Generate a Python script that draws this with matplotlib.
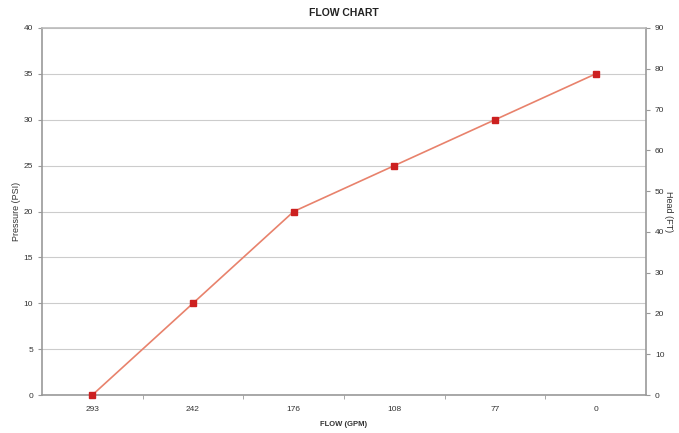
import matplotlib.pyplot as plt

plt.rcParams['font.family'] = ['Liberation Sans', 'DejaVu Sans']

flow = ["293", "242", "176", "108", "77", "0"]
pressure = [0, 10, 20, 25, 30, 35]
psi_ticks = list(range(0, 41, 5))
head_ticks = list(range(0, 91, 10))

fig = plt.figure(figsize=(6.79, 4.33), dpi=100)
ax = fig.add_axes([42 / 679, 1 - 395 / 433, 604 / 679, 367 / 433])

x = list(range(len(flow)))
ax.plot(x, pressure, color='#e8826c', lw=1.2, zorder=3)
ax.plot(x, pressure, ls='none', marker='s', ms=3.8, color='#cc2020', zorder=4, clip_on=False)

ax.set_xlim(-0.5, len(flow) - 0.5)
ax.set_ylim(0, 40)
ax.set_yticks(psi_ticks)
ax.set_xticks(x)
ax.set_xticklabels(flow)
ax.set_xticks([i + 0.5 for i in x[:-1]], minor=True)
ax.tick_params(axis='x', which='major', length=0, labelsize=6, pad=8, colors='#333333')
ax.tick_params(axis='x', which='minor', length=3, color='#999999')
ax.tick_params(axis='y', length=3, labelsize=6, color='#999999', labelcolor='#333333')
ax.grid(axis='y', color='#cccccc', lw=0.8)
ax.set_axisbelow(True)

for side in ['left', 'right', 'bottom', 'top']:
    ax.spines[side].set_color('#999999')
    ax.spines[side].set_linewidth(1.2)
ax.spines['top'].set_color('#bbbbbb')

ax.set_xlabel("FLOW (GPM)", fontsize=5.5, fontweight='bold', color='#333333', labelpad=6)
ax.set_ylabel("Pressure (PSI)", fontsize=6.5, color='#333333', labelpad=2)
ax.set_title("FLOW CHART", fontsize=7.5, fontweight='heavy', color='#222222', pad=9)

ax2 = ax.twinx()
ax2.set_ylim(0, 90)
ax2.set_yticks(head_ticks)
ax2.tick_params(axis='y', length=3, labelsize=6, color='#999999', labelcolor='#333333')
for side in ['left', 'right', 'bottom', 'top']:
    ax2.spines[side].set_visible(False)
ax2.set_ylabel("Head (FT)", fontsize=6.5, color='#333333', rotation=270, labelpad=6)

fig.savefig("out.png", dpi=100)
